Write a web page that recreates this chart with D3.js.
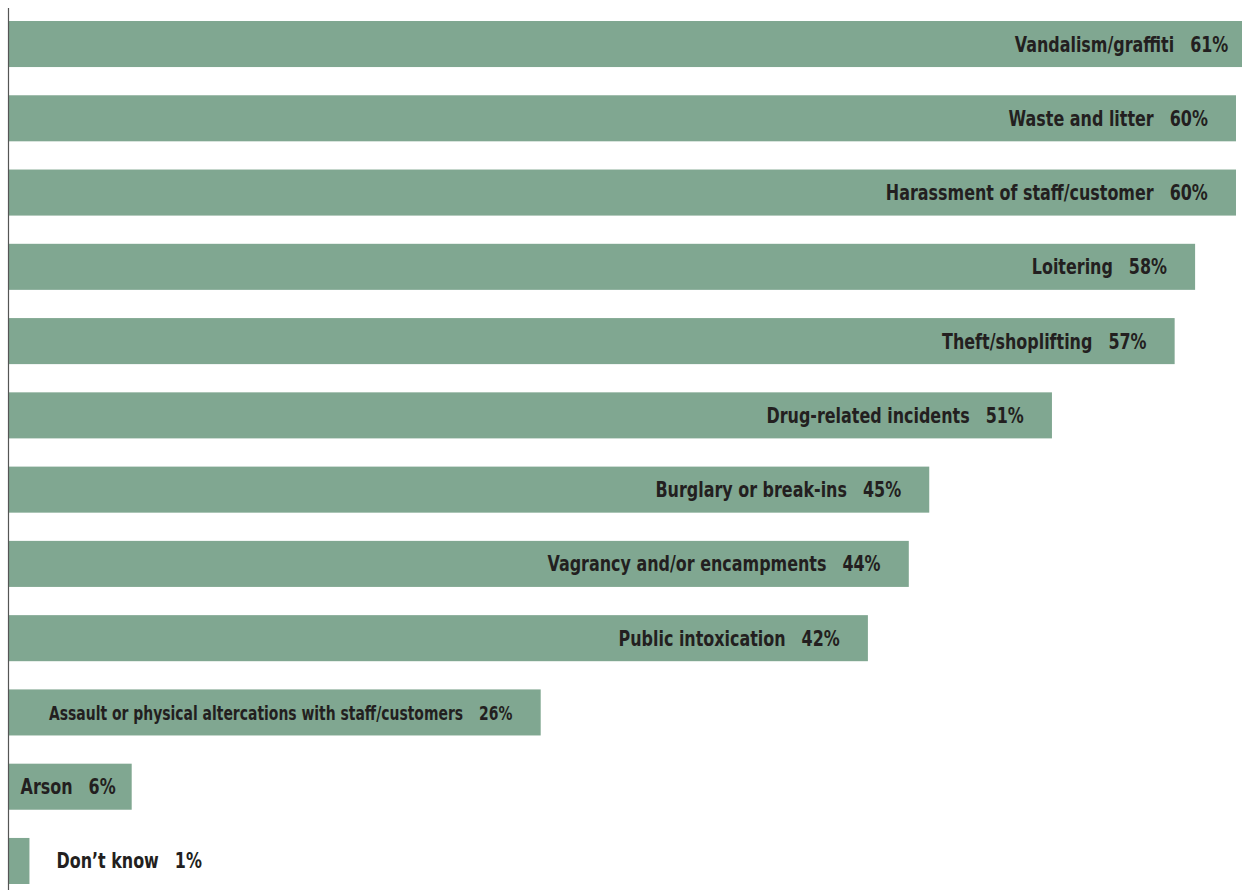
<!DOCTYPE html>
<html>
<head>
<meta charset="utf-8">
<script src="https://cdn.jsdelivr.net/npm/d3@7"></script>
<style>
  html, body { margin: 0; padding: 0; background: #ffffff; }
  svg { display: block; }
  .lbl { font-family: "DejaVu Sans", "Liberation Sans", sans-serif; font-weight: 700; fill: #231f20; }
</style>
</head>
<body>
<svg id="chart" width="1242" height="890"></svg>
<script>
// Incidents reported, share of respondents (%)
const categories = [
  "Vandalism/graffiti",
  "Waste and litter",
  "Harassment of staff/customer",
  "Loitering",
  "Theft/shoplifting",
  "Drug-related incidents",
  "Burglary or break-ins",
  "Vagrancy and/or encampments",
  "Public intoxication",
  "Assault or physical altercations with staff/customers",
  "Arson",
  "Don\u2019t know"
];
const values = [61, 60, 60, 58, 57, 51, 45, 44, 42, 26, 6, 1];

const W = 1242, H = 890;
const svg = d3.select("#chart");

const x = d3.scaleLinear().domain([0, 60]).range([9, 1236]);
const y = d3.scaleBand().domain(categories).range([21, 884]).paddingInner(0.38).paddingOuter(0);

const data = categories.map((c, i) => ({ name: c, value: values[i] }));

// bars
svg.append("g").selectAll("rect").data(data).join("rect")
  .attr("x", x(0))
  .attr("y", d => y(d.name))
  .attr("width", d => x(d.value) - x(0))
  .attr("height", y.bandwidth())
  .attr("fill", "#80a791");

// baseline axis
svg.append("line")
  .attr("x1", 8.5).attr("x2", 8.5)
  .attr("y1", 8).attr("y2", H)
  .attr("stroke", "#555555").attr("stroke-width", 1.2);

// labels: name + value in a condensed bold face (horizontal squeeze),
// right-aligned inside the bar when room allows
const baseSize = 22, squeeze = 0.725, pad = 28, gap = 16;
const groups = svg.append("g").selectAll("g").data(data).join("g");
const labels = groups.append("text")
  .attr("class", "lbl")
  .attr("font-size", baseSize)
  .attr("x", 0).attr("y", 0);
labels.append("tspan").attr("class", "nm").text(d => d.name);
labels.append("tspan").attr("class", "pc").attr("dx", gap / squeeze).text(d => d.value + "%");

labels.each(function(d) {
  const t = d3.select(this);
  const g = d3.select(this.parentNode);
  const barW = x(d.value) - x(0);
  const textW = k => {
    const a = t.select(".nm").node().getComputedTextLength();
    const b = t.select(".pc").node().getComputedTextLength();
    return (a + b) * squeeze + gap;
  };
  let w = textW();
  const room = barW - pad - 40;
  const yb = y(d.name) + y.bandwidth() / 2 + 7.5;
  let left;
  if (w <= barW - 2 * pad) {
    left = x(d.value) - pad - w;
  } else if (room / w >= 0.8) {
    // long label: shrink the type so it sits inside its bar
    const k = (room - gap) / (w - gap);
    t.attr("font-size", baseSize * k);
    left = x(d.value) - pad - room;
  } else if (w + 24 <= barW) {
    left = x(d.value) - 16 - w;
  } else {
    left = x(d.value) + 27;
  }
  g.attr("transform", `translate(${left},${yb}) scale(${squeeze},1)`);
});
</script>
</body>
</html>
